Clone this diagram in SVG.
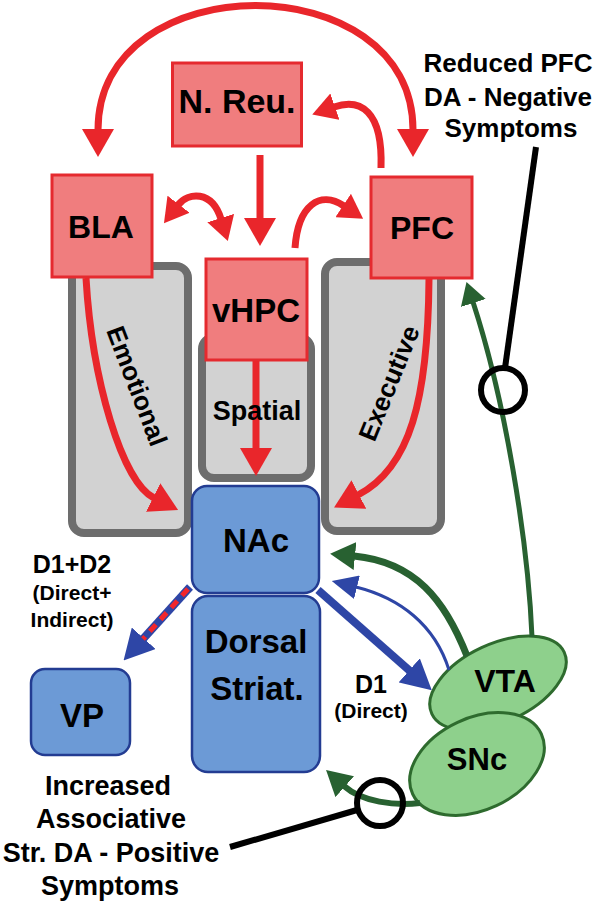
<svg xmlns="http://www.w3.org/2000/svg" width="600" height="905" viewBox="0 0 600 905">
<style>
text{font-family:"Liberation Sans",Arial,sans-serif;font-weight:bold;fill:#000}
.gray{fill:#D2D2D2;stroke:#6D6D6D;stroke-width:8}
.red{fill:#F07D7E;stroke:#E52A2F;stroke-width:3}
.blue{fill:#6C9AD6;stroke:#233C92;stroke-width:2.5}
.ell{fill:#8ED08C;stroke:#2E6B2E;stroke-width:3}
.ra{fill:none;stroke:#E9262B;stroke-width:7}
.ba{fill:none;stroke:#2E46A6}
.ga{fill:none;stroke:#286131}
.bk{fill:none;stroke:#000;stroke-width:6}
.box{font-size:33px}
.lab{font-size:26px}
</style>
<defs>
<marker id="hr" markerUnits="userSpaceOnUse" markerWidth="28" markerHeight="32" refX="1" refY="16" orient="auto-start-reverse"><path d="M0,0 L28,16 L0,32 z" fill="#E9262B"/></marker>
<marker id="hrs" markerUnits="userSpaceOnUse" markerWidth="24" markerHeight="28" refX="1" refY="14" orient="auto-start-reverse"><path d="M0,0 L24,14 L0,28 z" fill="#E9262B"/></marker>
<marker id="hb" markerUnits="userSpaceOnUse" markerWidth="30" markerHeight="32" refX="1" refY="16" orient="auto"><path d="M0,0 L30,16 L0,32 z" fill="#2E46A6"/></marker>
<marker id="hbs" markerUnits="userSpaceOnUse" markerWidth="26" markerHeight="24" refX="1" refY="12" orient="auto"><path d="M0,0 L26,12 L0,24 z" fill="#2E46A6"/></marker>
<marker id="hg" markerUnits="userSpaceOnUse" markerWidth="25" markerHeight="28" refX="1" refY="14" orient="auto"><path d="M0,0 L25,14 L0,28 z" fill="#286131"/></marker>
<marker id="hgs" markerUnits="userSpaceOnUse" markerWidth="22" markerHeight="26" refX="1" refY="13" orient="auto"><path d="M0,0 L22,13 L0,26 z" fill="#286131"/></marker>
</defs>

<g id="gray-boxes">
<rect class="gray" x="72" y="266" width="116" height="267" rx="12"/>
<rect class="gray" x="202" y="337" width="109" height="141" rx="12"/>
<rect class="gray" x="325" y="262" width="116" height="269" rx="12"/>
</g>

<g id="nreu"><rect class="red" x="172.5" y="63" width="129" height="83"/><text class="box" x="237" y="113" text-anchor="middle" style="font-size:34px">N. Reu.</text></g>
<g id="bla"><rect class="red" x="52" y="175" width="100" height="102"/><text class="box" x="101" y="238" text-anchor="middle" style="font-size:32px">BLA</text></g>
<g id="pfc"><rect class="red" x="371" y="177" width="101" height="101"/><text class="box" x="422" y="239" text-anchor="middle" style="font-size:32px">PFC</text></g>
<g id="vhpc"><rect class="red" x="206" y="259" width="101" height="101"/><text class="box" x="256" y="322" text-anchor="middle">vHPC</text></g>

<g id="nac"><rect class="blue" x="192" y="486" width="127" height="107" rx="15"/><text class="box" x="256" y="552" text-anchor="middle">NAc</text></g>
<g id="dorsal"><rect class="blue" x="192" y="596" width="128" height="176" rx="16"/><text class="box" x="256" y="653" text-anchor="middle">Dorsal</text><text class="box" x="257" y="700" text-anchor="middle">Striat.</text></g>
<g id="vp"><rect class="blue" x="31" y="669" width="99" height="86" rx="14"/><text class="box" x="82" y="727" text-anchor="middle">VP</text></g>

<g id="vta"><ellipse class="ell" cx="498" cy="683" rx="73" ry="39" transform="rotate(-25 498 683)"/><text class="box" x="505" y="692" text-anchor="middle" style="font-size:32px">VTA</text></g>
<g id="snc"><ellipse class="ell" cx="477" cy="764" rx="71" ry="46" transform="rotate(-25 477 764)"/><text class="box" x="477" y="770" text-anchor="middle" style="font-size:31px">SNc</text></g>

<g id="connectors">
<path class="ra" d="M98 130 C98 -36,413 -36,413 130" marker-start="url(#hr)" marker-end="url(#hr)"/>
<path class="ra" d="M260 155 L260 219" marker-end="url(#hr)"/>
<path class="ra" d="M381 168 C383 110,360 98,334 107" marker-end="url(#hrs)"/>
<path class="ra" d="M178 205 C188 192,212 190,221 219" marker-start="url(#hrs)" marker-end="url(#hrs)"/>
<path class="ra" d="M295 248 C298 205,320 190,344 206" marker-end="url(#hrs)"/>
<path class="ra" d="M86 278 C92 380,122 482,154 498" marker-end="url(#hr)"/>
<path class="ra" d="M429 279 C428 400,410 468,358 495" marker-end="url(#hr)"/>
<path class="ra" d="M256 361 L256 449" marker-end="url(#hr)"/>
<path class="ba" stroke-width="8" d="M318 590 L410 671" marker-end="url(#hb)"/>
<path class="ba" stroke-width="3" d="M449 670 C435 625,400 598,356 587" marker-end="url(#hbs)"/>
<path class="ba" stroke-width="8" d="M190 587 L143 639" marker-end="url(#hb)"/>
<path fill="none" stroke="#F2262B" stroke-width="5" stroke-dasharray="9 7" d="M188 589 L143 639"/>
<path class="ga" stroke-width="7" d="M467 656 C445 600,415 562,354 556" marker-end="url(#hg)"/>
<path class="ga" stroke-width="5" d="M532 637 C528 540,505 400,473 302" marker-end="url(#hgs)"/>
<path class="ga" stroke-width="6" d="M420 803 C395 806,362 802,344 786" marker-end="url(#hg)"/>
<path class="bk" d="M536 147 L505 368"/>
<circle class="bk" cx="503" cy="390" r="22"/>
<circle class="bk" cx="380" cy="803" r="23"/>
<path class="bk" d="M357 810 L230 847"/>
</g>

<g id="labels">
<text class="lab" transform="translate(137 386) rotate(69)" x="0" y="9" text-anchor="middle">Emotional</text>
<text class="lab" transform="translate(389 383) rotate(-68)" x="0" y="9" text-anchor="middle">Executive</text>
<text class="lab" x="257" y="420" text-anchor="middle" style="font-size:27px">Spatial</text>
<text x="72" y="573" text-anchor="middle" style="font-size:25px">D1+D2</text>
<text x="72" y="600" text-anchor="middle" style="font-size:21px">(Direct+</text>
<text x="72" y="627" text-anchor="middle" style="font-size:21px">Indirect)</text>
<text x="371" y="693" text-anchor="middle" style="font-size:25px">D1</text>
<text x="371" y="718" text-anchor="middle" style="font-size:21px">(Direct)</text>
<text x="508" y="72" text-anchor="middle" style="font-size:26px">Reduced PFC</text>
<text x="508" y="106" text-anchor="middle" style="font-size:26px">DA - Negative</text>
<text x="511" y="137" text-anchor="middle" style="font-size:26px">Symptoms</text>
<text x="108" y="795" text-anchor="middle" style="font-size:27px">Increased</text>
<text x="111" y="828" text-anchor="middle" style="font-size:27px">Associative</text>
<text x="111" y="862" text-anchor="middle" style="font-size:27px">Str. DA - Positive</text>
<text x="110" y="895" text-anchor="middle" style="font-size:27px">Symptoms</text>
</g>
</svg>
